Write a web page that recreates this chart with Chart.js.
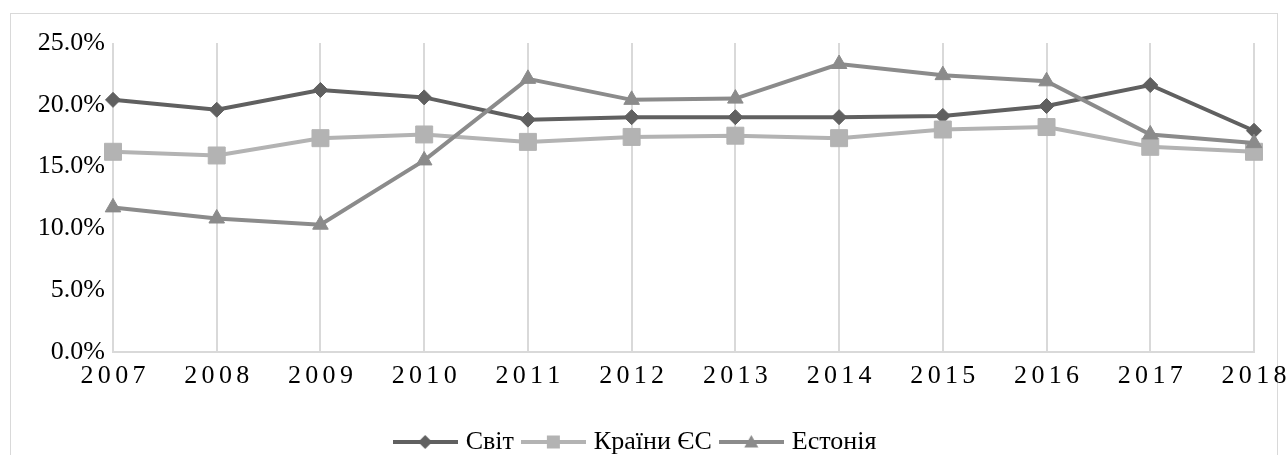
<!DOCTYPE html>
<html>
<head>
<meta charset="utf-8">
<script src="https://cdn.jsdelivr.net/npm/chart.js@4/dist/chart.umd.min.js"></script>
<style>
  body { margin: 0; background: #fff; }
</style>
</head>
<body>
<canvas id="grafico" width="1287" height="455"></canvas>
<script>
var roky = ["2007", "2008", "2009", "2010", "2011", "2012", "2013", "2014", "2015", "2016", "2017", "2018"];
var svit = [20.4, 19.6, 21.2, 20.6, 18.8, 19.0, 19.0, 19.0, 19.1, 19.9, 21.6, 17.9];
var krainyEs = [16.2, 15.9, 17.3, 17.6, 17.0, 17.4, 17.5, 17.3, 18.0, 18.2, 16.6, 16.2];
var estoniya = [11.7, 10.8, 10.3, 15.5, 22.1, 20.4, 20.5, 23.3, 22.4, 21.9, 17.6, 16.9];
var yTicks = [0, 5, 10, 15, 20, 25];

var shrift = "'Liberation Serif', 'Times New Roman', serif";
var kolir1 = "#606060";
var kolir2 = "#b3b3b3";
var kolir3 = "#8b8b8b";

// little icons for the legend: line with marker in the middle
function ikonka(kolir, vyd) {
  var c = document.createElement("canvas");
  c.width = 65;
  c.height = 20;
  var g = c.getContext("2d");
  var m = 32.5;
  g.strokeStyle = kolir;
  g.fillStyle = kolir;
  g.lineWidth = 4;
  g.beginPath();
  g.moveTo(0, 10);
  g.lineTo(65, 10);
  g.stroke();
  g.beginPath();
  if (vyd == "romb") {
    g.moveTo(m - 7, 10); g.lineTo(m, 3); g.lineTo(m + 7, 10); g.lineTo(m, 17);
  } else if (vyd == "kvadrat") {
    g.rect(m - 6.5, 3.5, 13, 13);
  } else {
    g.moveTo(m, 3); g.lineTo(m + 7, 15.5); g.lineTo(m - 7, 15.5);
  }
  g.closePath();
  g.fill();
  return c;
}

var ramka = {
  id: "ramka",
  beforeDraw: function(chart) {
    var ctx = chart.ctx;
    ctx.save();
    ctx.strokeStyle = "#d9d9d9";
    ctx.lineWidth = 1;
    ctx.strokeRect(10.5, 13.5, 1267, 460);
    ctx.restore();
  }
};

// x labels drawn with letter spacing like in the original
var pidpysy = {
  id: "pidpysy",
  afterDraw: function(chart) {
    var ctx = chart.ctx;
    var sx = chart.scales.x;
    var rozryv = 4.3;
    ctx.save();
    ctx.font = "26px " + shrift;
    ctx.fillStyle = "#000";
    ctx.textBaseline = "middle";
    ctx.textAlign = "left";
    for (var i = 0; i < roky.length; i++) {
      var t = roky[i];
      var w = 0;
      for (var k = 0; k < t.length; k++) w += ctx.measureText(t[k]).width;
      w += rozryv * (t.length - 1);
      var x = sx.getPixelForValue(i) - w / 2;
      for (var k = 0; k < t.length; k++) {
        ctx.fillText(t[k], x, chart.chartArea.bottom + 24);
        x += ctx.measureText(t[k]).width + rozryv;
      }
    }
    ctx.restore();
  }
};

var chartdata = {
  labels: roky,
  datasets: [
    {
      label: "Світ",
      data: svit,
      borderColor: kolir1,
      backgroundColor: kolir1,
      borderWidth: 4,
      pointStyle: "rectRot",
      pointRadius: 7.5,
      pointBorderWidth: 1,
      pointBackgroundColor: kolir1,
      pointBorderColor: kolir1,
      order: 2
    },
    {
      label: "Країни ЄС",
      data: krainyEs,
      borderColor: kolir2,
      backgroundColor: kolir2,
      borderWidth: 4,
      pointStyle: "rect",
      pointRadius: 12,
      pointBorderWidth: 1,
      pointBackgroundColor: kolir2,
      pointBorderColor: kolir2,
      order: 1
    },
    {
      label: "Естонія",
      data: estoniya,
      borderColor: kolir3,
      backgroundColor: kolir3,
      borderWidth: 4,
      pointStyle: "triangle",
      pointRadius: 9,
      pointBorderWidth: 1,
      pointBackgroundColor: kolir3,
      pointBorderColor: kolir3,
      order: 0
    }
  ]
};

var ikonky = [ikonka(kolir1, "romb"), ikonka(kolir2, "kvadrat"), ikonka(kolir3, "trykutnyk")];

Chart.defaults.font.family = shrift;

var ctx = document.getElementById("grafico");
var grafik = new Chart(ctx, {
  type: "line",
  data: chartdata,
  plugins: [ramka, pidpysy],
  options: {
    responsive: false,
    animation: false,
    layout: { padding: { left: 20, right: 33, top: 43, bottom: -10 } },
    plugins: {
      tooltip: { enabled: false },
      legend: {
        position: "bottom",
        labels: {
          color: "#000",
          font: { family: shrift, size: 26 },
          usePointStyle: true,
          pointStyleWidth: 55,
          padding: 12,
          sort: function(a, b) { return a.datasetIndex - b.datasetIndex; },
          generateLabels: function(chart) {
            return chart.data.datasets.map(function(d, i) {
              return {
                text: d.label,
                pointStyle: ikonky[i],
                fillStyle: d.borderColor,
                strokeStyle: d.borderColor,
                lineWidth: 0,
                fontColor: "#000",
                datasetIndex: i
              };
            });
          }
        }
      }
    },
    scales: {
      x: {
        grid: { color: "#d9d9d9", lineWidth: 2, drawTicks: false },
        border: { display: true, color: "#d9d9d9", width: 2 },
        ticks: { display: false },
        afterFit: function(scale) { scale.height = 65; }
      },
      y: {
        min: 0,
        max: 25,
        grid: { display: false, drawTicks: false },
        border: { display: false },
        afterBuildTicks: function(scale) {
          scale.ticks = yTicks.map(function(v) { return { value: v }; });
        },
        ticks: {
          color: "#000",
          padding: 8,
          font: { family: shrift, size: 26 },
          callback: function(v) { return v.toFixed(1) + "%"; }
        },
        afterFit: function(scale) { scale.width = 93; }
      }
    }
  }
});
</script>
</body>
</html>
